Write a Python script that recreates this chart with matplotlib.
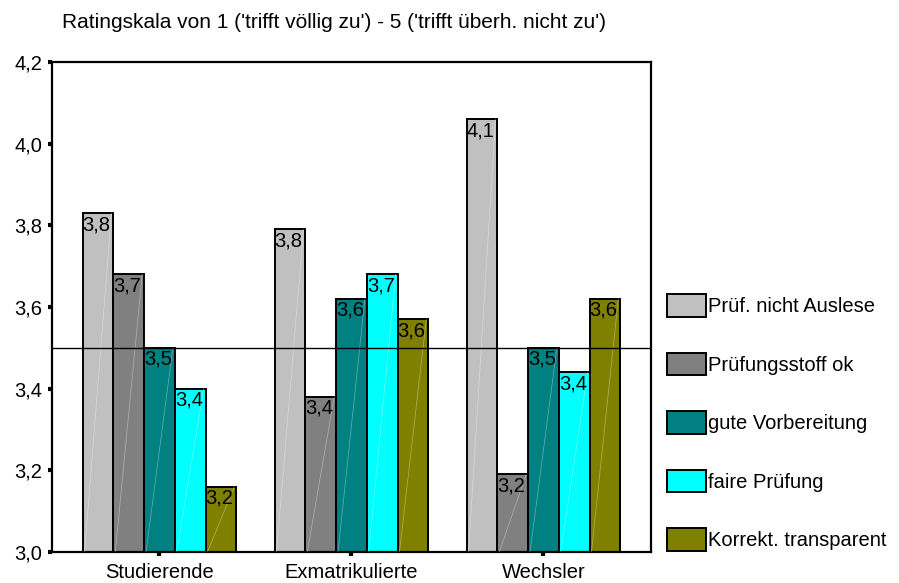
import matplotlib
matplotlib.use("Agg")
import matplotlib.pyplot as plt
import numpy as np
from matplotlib.ticker import FuncFormatter

plt.rcParams["font.family"] = ["Liberation Sans", "DejaVu Sans"]

groups = ["Studierende", "Exmatrikulierte", "Wechsler"]
series_names = ["Prüf. nicht Auslese", "Prüfungsstoff ok", "gute Vorbereitung",
                "faire Prüfung", "Korrekt. transparent"]
colors = ["#c0c0c0", "#808080", "#008080", "#00ffff", "#808000"]

# Mittelwerte je Gruppe
pruef_nicht_auslese = [3.83, 3.79, 4.06]
pruefungsstoff_ok = [3.68, 3.38, 3.19]
gute_vorbereitung = [3.50, 3.62, 3.50]
faire_pruefung = [3.40, 3.68, 3.44]
korrekt_transparent = [3.16, 3.57, 3.62]
values = [pruef_nicht_auslese, pruefungsstoff_ok, gute_vorbereitung,
          faire_pruefung, korrekt_transparent]

ref_line = 3.5
base = 3.0
fs = 14.5

fig = plt.figure(figsize=(8.99, 5.83), dpi=100)
ax = fig.add_axes([0.0578, 0.0532, 0.6663, 0.8405])

x = np.arange(len(groups))
w = 0.16
for i, (name, vals, col) in enumerate(zip(series_names, values, colors)):
    pos = x - 0.4 + i * w
    heights = np.array(vals) - base
    ax.bar(pos, heights, width=w, bottom=base, align="edge", color=col,
           edgecolor="black", linewidth=1.4, label=name, zorder=2)
    for p, v in zip(pos, vals):
        # feine Glanzlinie wie im Original
        ax.plot([p + 0.01, p + w - 0.01], [base, v], color="white",
                lw=0.5, alpha=0.4, zorder=3)
        ax.annotate(f"{v:.1f}".replace(".", ","), (p, v), xytext=(0, -1.5),
                    textcoords="offset points", ha="left", va="top",
                    fontsize=fs, zorder=4)

ax.axhline(ref_line, color="black", lw=1.0, zorder=3)

ax.set_ylim(3.0, 4.2)
ax.set_xlim(-0.56, 2.56)
ax.set_yticks(np.arange(3.0, 4.21, 0.2))
ax.yaxis.set_major_formatter(FuncFormatter(lambda v, _: f"{v:.1f}".replace(".", ",")))
ax.set_xticks(x)
ax.set_xticklabels(groups)
ax.tick_params(axis="both", direction="out", length=3, width=3, labelsize=fs)
ax.tick_params(axis="x", pad=5)
ax.tick_params(axis="y", pad=4)
for s in ax.spines.values():
    s.set_linewidth(1.6)
    s.set_color("black")

ax.legend(loc="center left", bbox_to_anchor=(1.027, 0.264), frameon=False,
          fontsize=fs, handlelength=1.94, handleheight=1.34,
          handletextpad=0.1, labelspacing=1.79, borderaxespad=0, borderpad=0)

fig.text(0.069, 0.962, "Ratingskala von 1 ('trifft völlig zu') - 5 ('trifft überh. nicht zu')",
         fontsize=15, ha="left", va="center")

fig.savefig("out.png", dpi=100)
